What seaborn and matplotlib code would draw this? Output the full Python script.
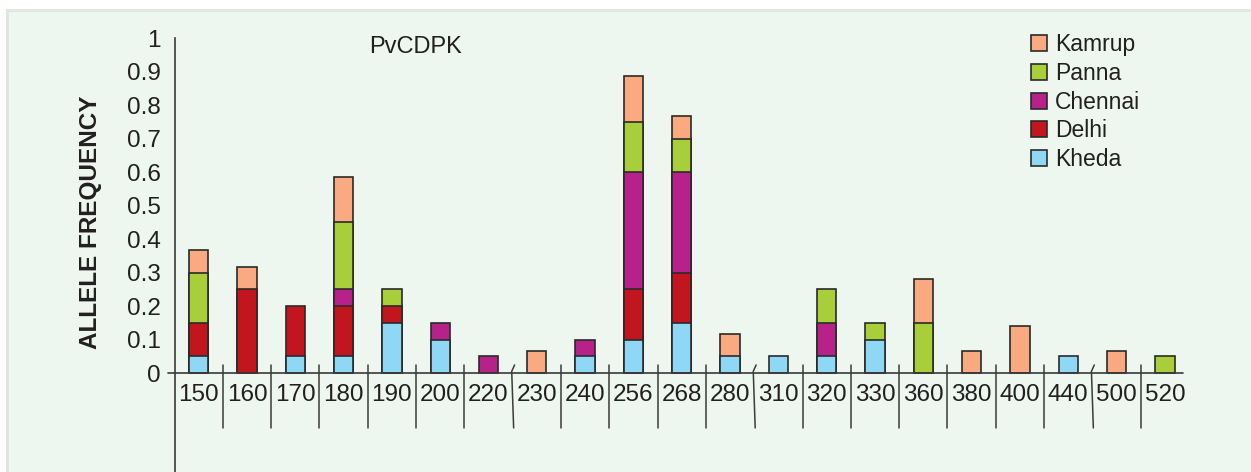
import matplotlib
matplotlib.use("Agg")
import matplotlib.pyplot as plt
import numpy as np
import pandas as pd
import seaborn as sns
from matplotlib.patches import Patch, Rectangle

# Allele sizes (bp) and per-population allele frequencies of PvCDPK
alleles = ["150", "160", "170", "180", "190", "200", "220", "230", "240", "256",
           "268", "280", "310", "320", "330", "360", "380", "400", "440", "500", "520"]
kheda   = [0.05, 0.00, 0.05, 0.05, 0.15, 0.10, 0.00, 0.00, 0.05, 0.10,
           0.15, 0.05, 0.05, 0.05, 0.10, 0.00, 0.00, 0.00, 0.05, 0.00, 0.00]
delhi   = [0.10, 0.25, 0.15, 0.15, 0.05, 0.00, 0.00, 0.00, 0.00, 0.15,
           0.15, 0.00, 0.00, 0.00, 0.00, 0.00, 0.00, 0.00, 0.00, 0.00, 0.00]
chennai = [0.00, 0.00, 0.00, 0.05, 0.00, 0.05, 0.05, 0.00, 0.05, 0.35,
           0.30, 0.00, 0.00, 0.10, 0.00, 0.00, 0.00, 0.00, 0.00, 0.00, 0.00]
panna   = [0.15, 0.00, 0.00, 0.20, 0.05, 0.00, 0.00, 0.00, 0.00, 0.15,
           0.10, 0.00, 0.00, 0.10, 0.05, 0.15, 0.00, 0.00, 0.00, 0.00, 0.05]
kamrup  = [0.067, 0.067, 0.00, 0.136, 0.00, 0.00, 0.00, 0.067, 0.00, 0.136,
           0.067, 0.067, 0.00, 0.00, 0.00, 0.13, 0.067, 0.14, 0.00, 0.067, 0.00]

# Stacking order (bottom to top) and colours
populations = ["Kheda", "Delhi", "Chennai", "Panna", "Kamrup"]
series = [kheda, delhi, chennai, panna, kamrup]
colors = {"Kheda": "#8ED8F6", "Delhi": "#C3151D", "Chennai": "#B6228A",
          "Panna": "#A8CE3A", "Kamrup": "#F9AA80"}
# broken-axis marks follow these alleles
axis_breaks = ["220", "280", "440"]

ink = "#231F20"
edge = "#2A2A2A"

sns.set_theme(style="white")
plt.rcParams["font.family"] = ["Liberation Sans", "DejaVu Sans"]
plt.rcParams["text.color"] = ink

rows = []
for pop, vals in zip(populations, series):
    for a, v in zip(alleles, vals):
        rows.append({"allele": a, "population": pop, "value": v})
df = pd.DataFrame(rows)
df["population"] = pd.Categorical(df["population"], populations, ordered=True)
df = df.sort_values(["allele", "population"])
df["top"] = df.groupby("allele", observed=True)["value"].cumsum()

W, H, DPI = 1251, 472, 100
fig = plt.figure(figsize=(W / DPI, H / DPI), dpi=DPI, facecolor="white")

# panel background with a light frame on top and left
fig.patches.append(Rectangle((6 / W, 0), 1, 1 - 9 / H, transform=fig.transFigure,
                             facecolor="#E3E5E3", edgecolor="none", zorder=-3))
fig.patches.append(Rectangle((9 / W, 0), 1, 1 - 12 / H, transform=fig.transFigure,
                             facecolor="#EDF7EF", edgecolor="none", zorder=-2))

ax = fig.add_axes([175 / W, 0, 1014 / W, 1 - 38 / H])
ax.set_facecolor("none")

# draw cumulative heights from the top layer down so each segment shows
for pop in reversed(populations):
    sub = df[(df["population"] == pop) & (df["value"] > 0)]
    sns.barplot(data=sub, x="allele", y="top", order=alleles, color=colors[pop],
                width=0.4, edgecolor=edge, linewidth=1.2, saturation=1,
                ax=ax, zorder=3)

ax.set_xlim(-0.49, 20.5)
ax.set_ylim(-0.2955, 1.0)
ax.set_xlabel("")
ax.set_ylabel("")

for s in ["top", "right"]:
    ax.spines[s].set_visible(False)
ax.spines["left"].set_color("#3A3A3A")
ax.spines["left"].set_linewidth(1.2)
ax.spines["bottom"].set_position(("data", 0))
ax.spines["bottom"].set_color("none")

ax.set_yticks(np.round(np.arange(0, 1.01, 0.1), 1))
ax.set_yticklabels(["0"] + [f"{v:.1f}" for v in np.arange(0.1, 0.95, 0.1)] + ["1"])
ax.tick_params(axis="y", direction="out", length=6, width=1.2, color="#3A3A3A",
               labelsize=17.5, labelcolor=ink, pad=4)
ax.tick_params(axis="x", length=0, labelsize=17.5, labelcolor=ink, pad=8)

# category axis line
ax.plot([-0.635, 20.38], [0, 0], color="#3A3A3A", lw=1.2, clip_on=False, zorder=4)

# dividers between allele categories
for i in range(len(alleles) - 1):
    x = i + 0.5
    if alleles[i] in axis_breaks:
        ax.plot([x + 0.04, x - 0.02, x + 0.02], [0.024, 0.005, -0.164],
                color="#3A3A3A", lw=1.1, clip_on=False, zorder=4)
    else:
        ax.plot([x, x], [0.024, -0.164], color="#3A3A3A", lw=1.1,
                clip_on=False, zorder=4)

ax.text(4.48, 0.973, "PvCDPK", ha="center", va="center", fontsize=17, color=ink)

fig.text(90 / W, 1 - 222 / H, "ALLELE FREQUENCY", rotation=90, ha="center",
         va="center", fontsize=17.5, fontweight="bold", color=ink)

handles = [Patch(facecolor=colors[p], edgecolor=edge, linewidth=1.2, label=p)
           for p in reversed(populations)]
ax.legend(handles=handles, loc="upper left", bbox_to_anchor=(1022 / W, 1 - 24 / H),
          bbox_transform=fig.transFigure, frameon=False, fontsize=16.5,
          handlelength=0.7, handleheight=0.7, handletextpad=0.35,
          labelspacing=0.25, borderaxespad=0)

fig.savefig("out.png", dpi=DPI, facecolor="white")
